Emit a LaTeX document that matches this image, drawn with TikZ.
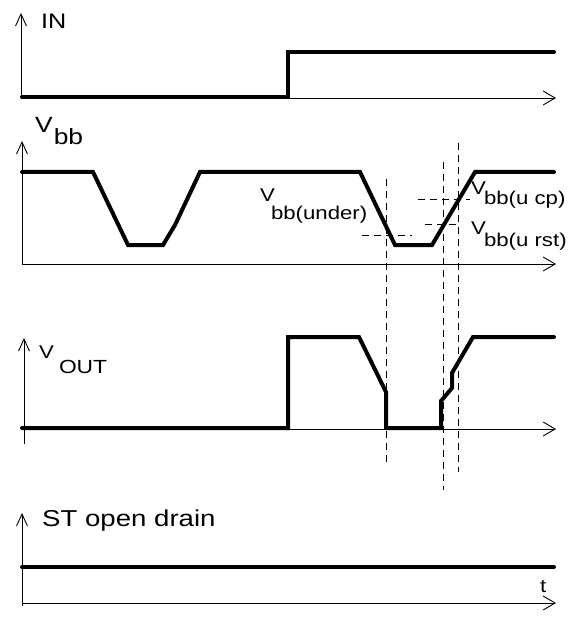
\documentclass[tikz,border=0pt]{standalone}
\usepackage{fontspec}
\newfontfamily\diagfont[FakeStretch=1.2]{Liberation Sans}
\usetikzlibrary{arrows.meta}
\usetikzlibrary{positioning,calc}
\tikzset{time axis/.style={line width=0.9pt, -{Straight Barb[length=12pt,width=14pt]}},
  value axis/.style={line width=0.9pt, -{Straight Barb[length=12pt,width=11pt]}},
  signal/.style={line width=4pt, line cap=round, line join=miter},
  guide/.style={line width=0.9pt, dash pattern=on 7pt off 5pt},
  sig label/.style={font=\diagfont\fontsize{18.5}{20}\selectfont, inner sep=0pt, anchor=base west}}
\newcommand{\dn}[2]{\raisebox{-#1}{#2}}
\newcommand{\sz}[1]{\fontsize{#1}{#1}\selectfont}

\begin{document}
\begin{tikzpicture}[x=1pt, y=-1pt]
\useasboundingbox (0,0) rectangle (568,617);
% IN
\coordinate (o1) at (21,98);
\draw[value axis] (o1) -- ++(0,-85);
\draw[time axis] (o1) -- (556,98);
\draw[signal] (22,97) -- (288,97) -- (288,52) -- (554,52);
\node[sig label, font=\diagfont\sz{21}] (in) at (41,29) {IN};
% Vbb
\coordinate (o2) at (22,264);
\draw[value axis] (o2) -- ++(0,-123);
\draw[time axis] (o2) -- (556,264);
\draw[signal] (22,172) -- (93,172) -- (128,245) -- (163,245) -- (175,225) -- (200,172)
  -- (360,172) -- (395,245) -- (432,245) -- (475,172) -- (554,172);
\node[sig label, font=\diagfont\sz{22}] (vbb) at (35,133) {V\hspace{1pt}\dn{12pt}{bb}};
\node[sig label] (under) at (260,202) {V\hspace{-4pt}\dn{18pt}{bb(under)}};
\node[sig label] (ucp) at (471,195) {V\hspace{-2pt}\dn{10pt}{bb(u cp)}};
\node[sig label] (urst) at (471,235) {V\hspace{-2pt}\dn{11pt}{bb(u rst)}};
\draw[guide] (362,235) -- (412,235);
\draw[guide] (418,199) -- (470,199);
\draw[guide] (425,224) -- (460,224);
% VOUT
\coordinate (o3) at (24,429);
\draw[value axis] (o3) ++(0,15) -- (24,338);
\draw[time axis] (o3) -- (556,429);
\draw[signal] (22,428) -- (288,428) -- (288,337) -- (359,337) -- (386,392) -- (386,428)
  -- (441,428) -- (441,401) -- (452,388) -- (452,373) -- (473,337) -- (554,337);
\node[sig label] (vout) at (39,358) {V\hspace{5pt}\dn{15pt}{\sz{19}OUT}};
% markers
\draw[guide] (386,179) -- (386,463);
\draw[guide] (443,162) -- (443,490);
\draw[guide] (458,143) -- (458,472);
% ST
\coordinate (o4) at (22,606);
\draw[value axis] (o4) -- (22,513);
\draw[time axis] (o4) ++(0,-3) -- (556,603);
\draw[signal] (22,567) -- (554,567);
\node[sig label, font=\diagfont\sz{23}] (st) at (42,526) {ST open drain};
\node[sig label] (t) at (540,592) {t};
\end{tikzpicture}
\end{document}
